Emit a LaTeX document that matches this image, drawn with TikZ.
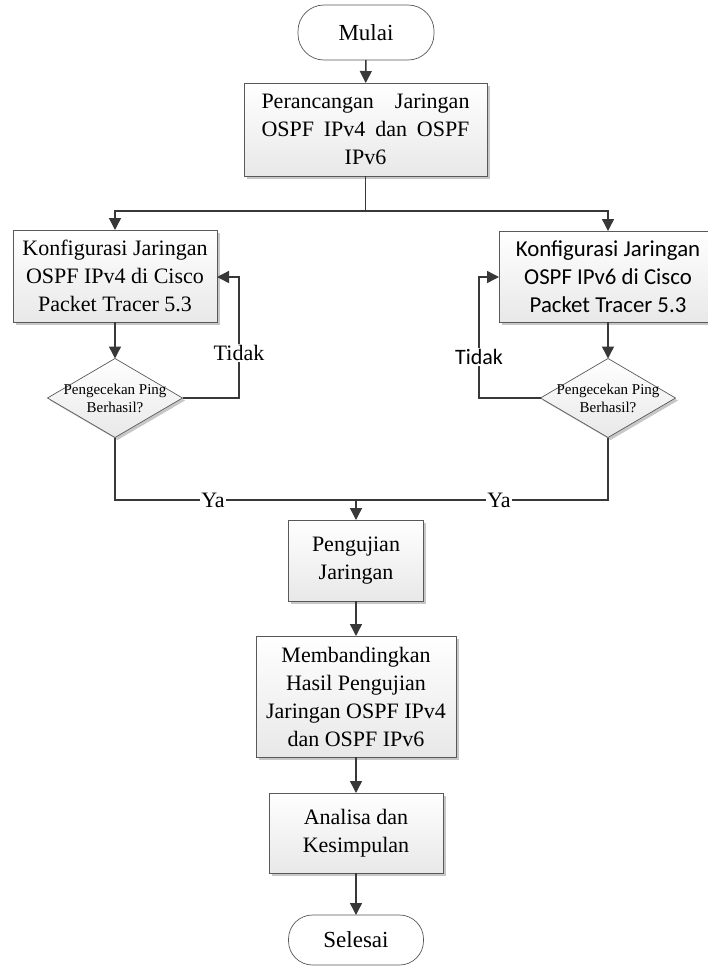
\documentclass[tikz,border=0pt]{standalone}
\usepackage{fontspec}
\setmainfont{Liberation Serif}
\newfontfamily\calfont{Carlito}
\usetikzlibrary{arrows.meta,shapes.geometric,shadows}
\begin{document}
\begin{tikzpicture}[x=1pt,y=-1pt,
  every node/.style={inner sep=0pt, outer sep=0pt},
  bigtext/.style={font=\fontsize{22}{28}\selectfont, align=center},
  smalltext/.style={font=\fontsize{15}{18}\selectfont, align=center},
  procbox/.style={bigtext, rectangle, draw=black!65, line width=0.7pt,
     top color=white, bottom color=black!9,
     drop shadow={shadow xshift=2.5pt, shadow yshift=-2.5pt, fill=black!22, opacity=1}},
  termbox/.style={font=\fontsize{23}{28}\selectfont, align=center, rectangle, rounded corners=26pt, draw=black!65, line width=0.7pt, fill=white},
  decbox/.style={diamond, draw=black!65, line width=0.7pt, top color=white, bottom color=black!9,
     drop shadow={shadow xshift=2.5pt, shadow yshift=-2.5pt, fill=black!22, opacity=1},
     minimum width=135pt, minimum height=79pt},
  conn/.style={draw=black!78, line width=1.4pt},
  arr/.style={conn, -{Triangle[length=12pt,width=12pt]}},
  lbl/.style={fill=white, inner sep=1.5pt}
]
\useasboundingbox (0,0) rectangle (708,967);
\clip (0,0) rectangle (708,967);

% nodes
\node[termbox, minimum width=136pt, minimum height=55pt] (mulai) at (366,32.5) {Mulai};
\node[procbox, minimum width=243pt, minimum height=93pt] (per) at (365.5,129.5)
  {\makebox[208pt][s]{Perancangan Jaringan}\\\makebox[208pt][s]{OSPF IPv4 dan OSPF}\\IPv6};
\node[procbox, minimum width=204pt, minimum height=92pt] (lbox) at (115,276)
  {Konfigurasi Jaringan\\OSPF IPv4 di Cisco\\Packet Tracer 5.3};
\node[procbox, minimum width=218pt, minimum height=91pt, font=\calfont\fontsize{22.8}{28}\selectfont] (rbox) at (608,276.5)
  {Konfigurasi Jaringan\\OSPF IPv6 di Cisco\\Packet Tracer 5.3};
\node[decbox] (ld) at (115,398) {};
\node[smalltext] at (ld) {Pengecekan Ping\\Berhasil?};
\node[decbox] (rd) at (608,398) {};
\node[smalltext] at (rd) {Pengecekan Ping\\Berhasil?};
\node[procbox, minimum width=135pt, minimum height=81pt] (uji) at (356,560.5) {Pengujian\\Jaringan};
\node[procbox, minimum width=200pt, minimum height=121pt] (band) at (356,696.5)
  {Membandingkan\\Hasil Pengujian\\Jaringan OSPF IPv4\\dan OSPF IPv6};
\node[procbox, minimum width=174pt, minimum height=80pt] (anl) at (356,833) {Analisa dan\\Kesimpulan};
\node[termbox, minimum width=135pt, minimum height=50pt, rounded corners=24pt] (sel) at (356,940) {Selesai};

% helper coordinates
\coordinate (split) at (365.5,211);
\coordinate (join) at (356,500);
\coordinate (lloop) at (239,277);
\coordinate (rloop) at (479,277);

% connectors
\draw[arr] (mulai) -- (per);
\draw[conn] (per.south) -- (split);
\draw[arr] (split) -- (split -| lbox.north) -- (lbox.north);
\draw[arr] (split) -- (split -| rbox.north) -- (rbox.north);
\draw[arr] (lbox) -- (ld);
\draw[arr] (rbox) -- (rd);
\draw[arr] (ld.east) -- (ld.east -| lloop) -- (lloop) -- (lbox.east |- lloop);
\draw[arr] (rd.west) -- (rd.west -| rloop) -- (rloop) -- (rbox.west |- rloop);
\draw[conn] (ld.south) -- (ld.south |- join) -- (join);
\draw[conn] (rd.south) -- (rd.south |- join) -- (join);
\draw[arr] (join) -- (uji.north);
\draw[arr] (uji) -- (band);
\draw[arr] (band) -- (anl);
\draw[arr] (anl) -- (sel);

% labels
\node[lbl, font=\fontsize{22}{24}\selectfont] (t1) at (239,353) {Tidak};
\node[lbl, font=\calfont\fontsize{22}{24}\selectfont] (t2) at (479,357) {Tidak};
\node[lbl, font=\fontsize{22}{24}\selectfont] (y1) at (213,500) {Ya};
\node[lbl, font=\fontsize{22}{24}\selectfont] (y2) at (499,500) {Ya};
\end{tikzpicture}
\end{document}
